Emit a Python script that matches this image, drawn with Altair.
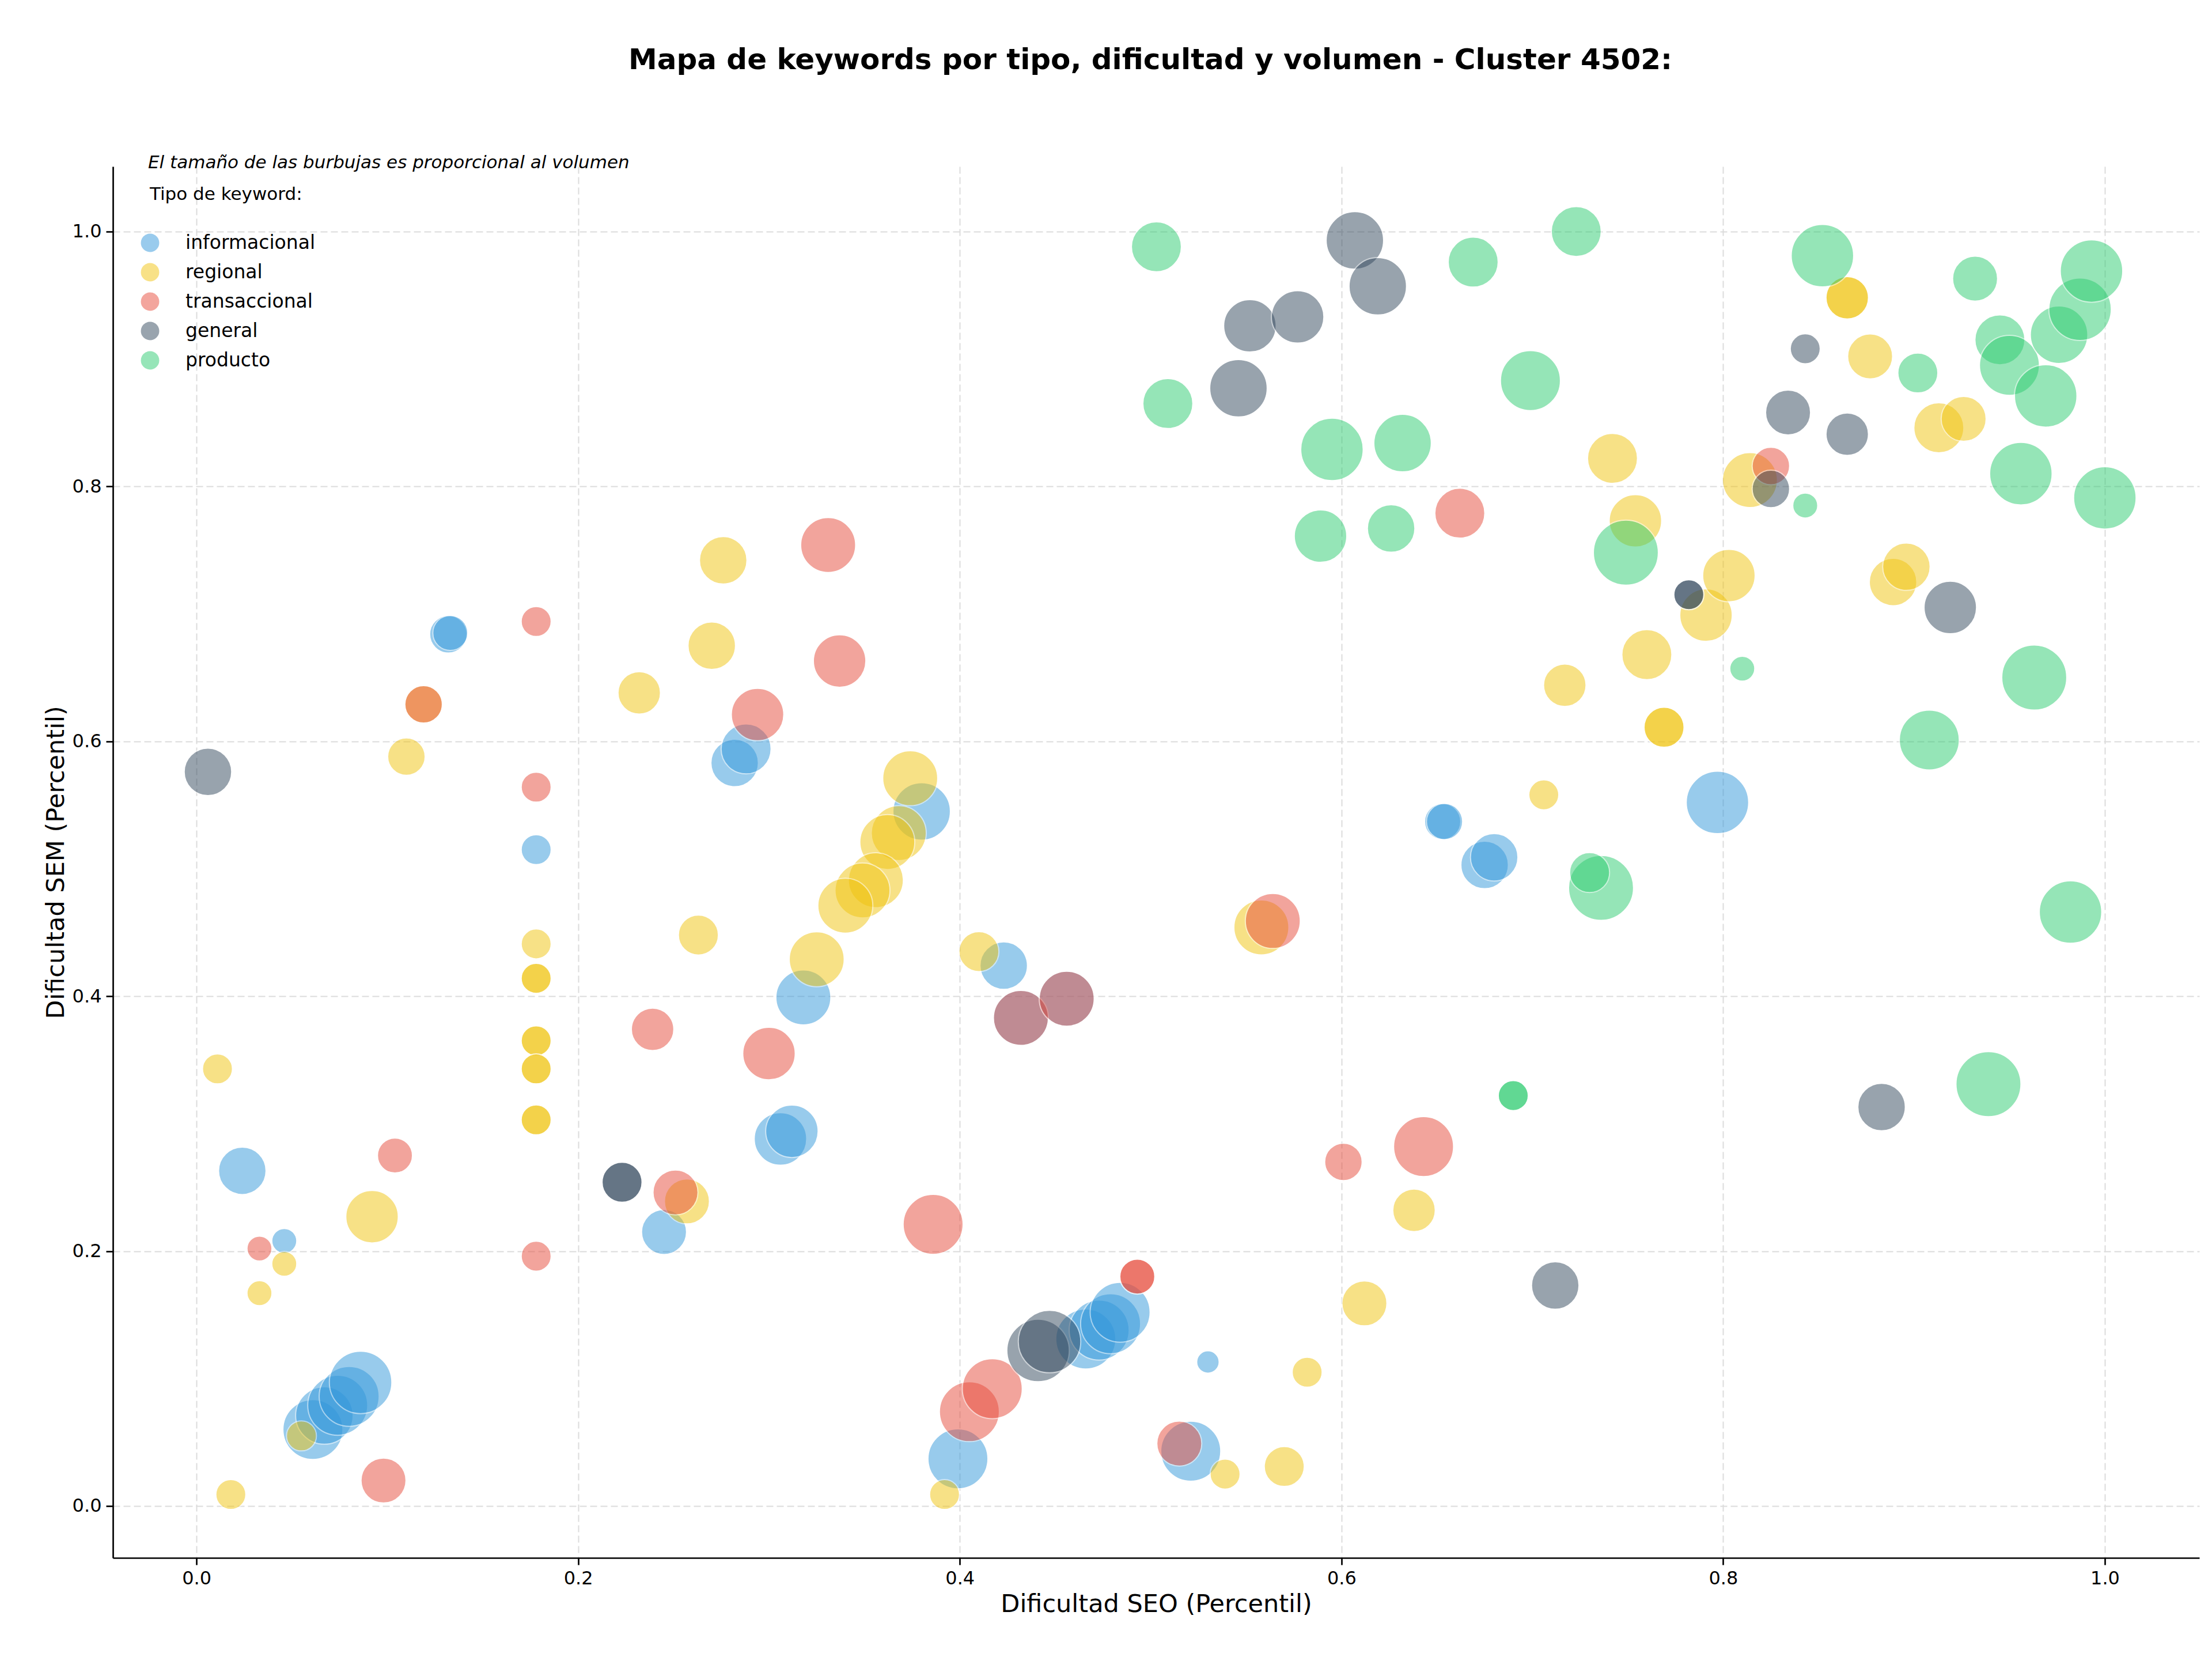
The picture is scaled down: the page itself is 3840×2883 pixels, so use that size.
import altair as alt
import pandas as pd

titulo = "Mapa de keywords por tipo, dificultad y volumen - Cluster 4502:"
nota = "El tamaño de las burbujas es proporcional al volumen"
titulo_x = "Dificultad SEO (Percentil)"
titulo_y = "Dificultad SEM (Percentil)"
titulo_leyenda = "Tipo de keyword:"

tipos = ["informacional", "regional", "transaccional", "general", "producto"]
colores = ["#3498DB", "#F1C40F", "#E74C3C", "#34495E", "#2ECC71"]
ticks = [0.0, 0.2, 0.4, 0.6, 0.8, 1.0]

# informacional
info_seo = [0.132, 0.133, 0.024, 0.046, 0.178, 0.245, 0.282, 0.288, 0.318, 0.306, 0.312, 0.380,
            0.423, 0.399, 0.061, 0.067, 0.074, 0.080, 0.086, 0.466, 0.473, 0.479, 0.484, 0.530,
            0.521, 0.797, 0.653, 0.654, 0.675, 0.680, 0.432, 0.456]
info_sem = [0.684, 0.685, 0.263, 0.208, 0.515, 0.215, 0.583, 0.594, 0.399, 0.288, 0.294, 0.545,
            0.424, 0.037, 0.060, 0.071, 0.079, 0.086, 0.097, 0.131, 0.138, 0.143, 0.152, 0.113,
            0.043, 0.552, 0.537, 0.537, 0.503, 0.509, 0.383, 0.398]
info_vol = [2250, 1960, 3610, 1000, 1440, 3240, 3610, 4000, 4840, 4410, 4410, 5290,
            3610, 5760, 5760, 5290, 5760, 5760, 6250, 5760, 5760, 5760, 5760, 810,
            5760, 6250, 2100, 2100, 3610, 3610, 4840, 4840]

# regional
reg_seo = [0.011, 0.018, 0.033, 0.046, 0.055, 0.092, 0.110, 0.119, 0.178, 0.178, 0.178, 0.178,
           0.178, 0.178, 0.178, 0.178, 0.178, 0.232, 0.257, 0.263, 0.270, 0.276, 0.325, 0.374,
           0.368, 0.362, 0.356, 0.349, 0.340, 0.410, 0.392, 0.539, 0.570, 0.582, 0.612, 0.558,
           0.638, 0.706, 0.717, 0.742, 0.754, 0.760, 0.769, 0.769, 0.791, 0.803, 0.814, 0.865,
           0.865, 0.877, 0.889, 0.896, 0.913, 0.926]
reg_sem = [0.343, 0.009, 0.167, 0.190, 0.055, 0.227, 0.588, 0.629, 0.441, 0.414, 0.414, 0.365,
           0.365, 0.343, 0.343, 0.303, 0.303, 0.638, 0.239, 0.448, 0.675, 0.742, 0.429, 0.571,
           0.528, 0.521, 0.491, 0.483, 0.471, 0.435, 0.009, 0.025, 0.031, 0.105, 0.159, 0.454,
           0.232, 0.558, 0.644, 0.822, 0.773, 0.668, 0.611, 0.611, 0.699, 0.730, 0.805, 0.948,
           0.948, 0.902, 0.725, 0.737, 0.846, 0.853]
reg_vol = [1440, 1440, 1000, 1000, 1440, 4410, 2250, 2250, 1440, 1440, 1440, 1440,
           1440, 1440, 1440, 1440, 1440, 2890, 3240, 2560, 3610, 3610, 4840, 4840,
           4840, 4840, 4840, 4840, 4840, 2560, 1440, 1440, 2560, 1440, 3240, 4840,
           2890, 1440, 2890, 4000, 4410, 4000, 2560, 2560, 4410, 4410, 4840, 2890,
           2890, 3240, 3610, 3610, 4000, 3240]

# transaccional
tra_seo = [0.033, 0.104, 0.098, 0.119, 0.178, 0.178, 0.178, 0.239, 0.251, 0.294, 0.300, 0.331,
           0.337, 0.386, 0.405, 0.417, 0.493, 0.493, 0.515, 0.564, 0.601, 0.643, 0.662, 0.825,
           0.432, 0.456]
tra_sem = [0.202, 0.275, 0.020, 0.629, 0.694, 0.564, 0.196, 0.374, 0.246, 0.621, 0.355, 0.754,
           0.663, 0.221, 0.074, 0.092, 0.180, 0.180, 0.049, 0.459, 0.270, 0.282, 0.779, 0.816,
           0.383, 0.398]
tra_vol = [1000, 1960, 3240, 2250, 1440, 1440, 1440, 2890, 3240, 4410, 4410, 4840,
           4410, 5760, 5760, 5760, 1960, 1960, 3240, 4840, 2250, 5760, 4000, 2250,
           4840, 4840]

# general
gen_seo = [0.006, 0.223, 0.223, 0.441, 0.447, 0.552, 0.577, 0.546, 0.607, 0.619, 0.712, 0.782,
           0.782, 0.825, 0.834, 0.843, 0.865, 0.883, 0.919]
gen_sem = [0.576, 0.254, 0.254, 0.122, 0.129, 0.926, 0.933, 0.877, 0.993, 0.957, 0.173, 0.715,
           0.715, 0.798, 0.858, 0.908, 0.841, 0.313, 0.705]
gen_vol = [3610, 2560, 2560, 6250, 6250, 4410, 4410, 5290, 5290, 5290, 3610, 1440,
           1440, 2250, 3240, 1440, 2890, 3610, 4410]

# producto
pro_seo = [0.503, 0.509, 0.589, 0.595, 0.626, 0.632, 0.669, 0.699, 0.723, 0.749, 0.690, 0.690,
           0.736, 0.730, 0.810, 0.843, 0.852, 0.902, 0.908, 0.932, 0.939, 0.945, 0.950, 0.956,
           0.963, 0.969, 0.976, 0.982, 0.987, 0.993, 1.000]
pro_sem = [0.988, 0.865, 0.761, 0.829, 0.767, 0.834, 0.976, 0.883, 1.000, 0.748, 0.322, 0.322,
           0.485, 0.497, 0.657, 0.785, 0.981, 0.889, 0.601, 0.963, 0.331, 0.915, 0.895, 0.810,
           0.650, 0.871, 0.919, 0.466, 0.939, 0.969, 0.791]
pro_vol = [4000, 4000, 4410, 6250, 3610, 5290, 4000, 5760, 4000, 6760, 1440, 1440,
           6760, 2560, 1000, 1000, 6250, 2560, 5760, 3240, 6760, 4000, 5760, 6250,
           6760, 6250, 5290, 6250, 6250, 6250, 6250]

series = [
    ("informacional", info_seo, info_sem, info_vol),
    ("regional", reg_seo, reg_sem, reg_vol),
    ("transaccional", tra_seo, tra_sem, tra_vol),
    ("general", gen_seo, gen_sem, gen_vol),
    ("producto", pro_seo, pro_sem, pro_vol),
]
filas = []
for tipo, xs, ys, vs in series:
    for a, b, v in zip(xs, ys, vs):
        filas.append({"tipo": tipo, "seo": a, "sem": b, "volumen": v})
df = pd.DataFrame(filas)
df["orden"] = range(len(df))

W, H = 3622, 2415
FONT = "DejaVu Sans"

puntos = alt.Chart(df).mark_circle(opacity=0.5, stroke="white", strokeWidth=2).encode(
    x=alt.X("seo:Q",
            scale=alt.Scale(domain=[-0.0438, 1.0495], nice=False, zero=False),
            axis=alt.Axis(values=ticks, format=".1f", title=titulo_x, titlePadding=8)),
    y=alt.Y("sem:Q",
            scale=alt.Scale(domain=[-0.0407, 1.051], nice=False, zero=False),
            axis=alt.Axis(values=ticks, format=".1f", title=titulo_y, titlePadding=6)),
    color=alt.Color("tipo:N",
                    scale=alt.Scale(domain=tipos, range=colores),
                    legend=alt.Legend(title=None, orient="none", legendX=48, legendY=116,
                                      labelFont=FONT, labelFontSize=33, labelLimit=0,
                                      labelColor="black", symbolType="circle", symbolSize=1018,
                                      symbolStrokeWidth=0, symbolOpacity=0.5, labelOffset=45,
                                      rowPadding=17, padding=0)),
    size=alt.Size("volumen:Q", scale=alt.Scale(domain=[0, 10000], range=[0, 18840]), legend=None),
    order=alt.Order("orden:Q"),
)

capa_titulo = alt.Chart(pd.DataFrame({"t": [titulo]})).mark_text(
    font=FONT, fontSize=50, fontWeight="bold", align="center", baseline="alphabetic", color="black"
).encode(text="t:N", x=alt.value(1801), y=alt.value(-169))

capa_nota = alt.Chart(pd.DataFrame({"t": [nota]})).mark_text(
    font=FONT, fontSize=31, fontStyle="italic", align="left", baseline="alphabetic", color="black"
).encode(text="t:N", x=alt.value(61), y=alt.value(3))

capa_leyenda = alt.Chart(pd.DataFrame({"t": [titulo_leyenda]})).mark_text(
    font=FONT, fontSize=31, align="left", baseline="alphabetic", color="black"
).encode(text="t:N", x=alt.value(64), y=alt.value(58))

chart = alt.layer(puntos, capa_titulo, capa_nota, capa_leyenda).properties(
    width=W, height=H,
    padding={"left": 196, "top": 289, "right": 22, "bottom": 179},
    autosize=alt.AutoSizeParams(type="none"),
    background="white",
).configure_view(stroke=None).configure_axis(
    domainColor="black", domainWidth=2.7, tickColor="black", tickWidth=2.7, tickSize=12,
    labelFont=FONT, labelFontSize=32, labelColor="black", labelPadding=8,
    titleFont=FONT, titleFontSize=43, titleFontWeight="normal", titleColor="black",
    gridColor="#dcdcdc", gridDash=[12, 6], gridWidth=2,
)

chart.save("out.html", embed_options={"renderer": "svg", "actions": False})
